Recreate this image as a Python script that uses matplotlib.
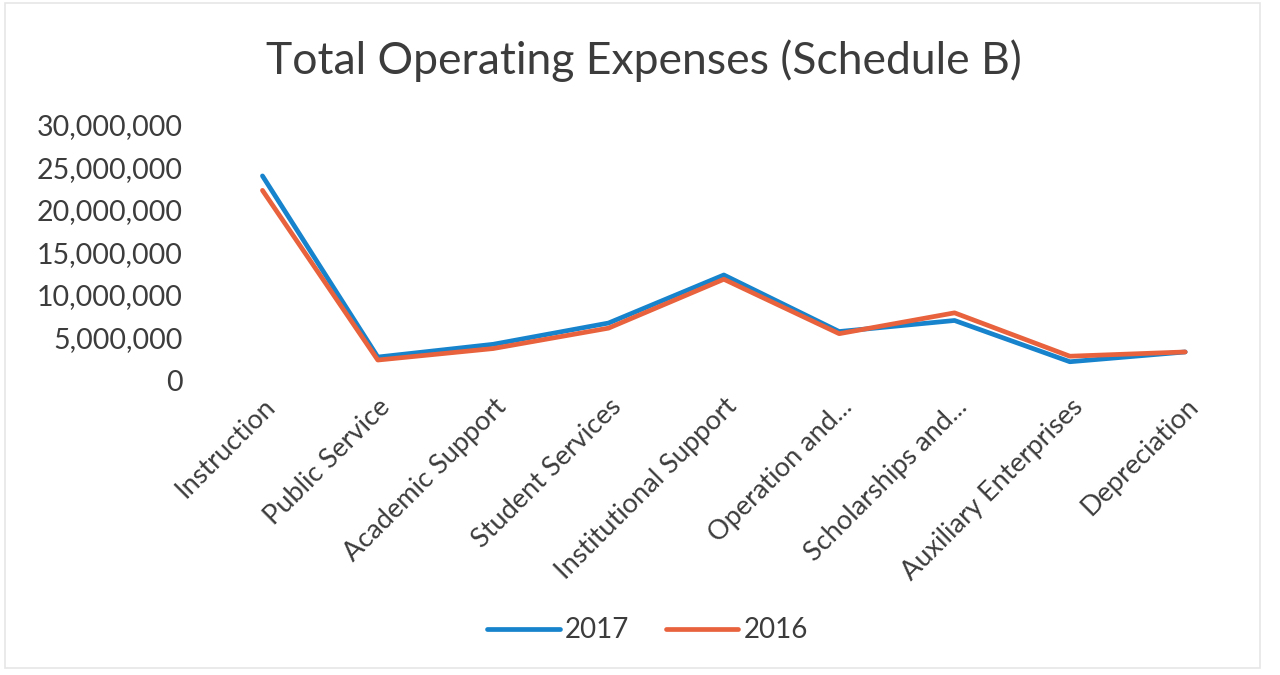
import matplotlib
matplotlib.use("Agg")
import matplotlib.pyplot as plt
from matplotlib.ticker import FuncFormatter
from matplotlib.patches import Rectangle

plt.rcParams['font.family'] = ['Lato', 'DejaVu Sans']

# --- data ---
categories = ["Instruction", "Public Service", "Academic Support", "Student Services",
              "Institutional Support", "Operation and...", "Scholarships and...",
              "Auxiliary Enterprises", "Depreciation"]
exp_2017 = [24.0e6, 2.7e6, 4.2e6, 6.7e6, 12.35e6, 5.7e6, 7.0e6, 2.15e6, 3.3e6]
exp_2016 = [22.3e6, 2.35e6, 3.7e6, 6.1e6, 11.85e6, 5.45e6, 7.9e6, 2.8e6, 3.3e6]
yticks = [0, 5e6, 10e6, 15e6, 20e6, 25e6, 30e6]

BLUE = "#1683cc"
ORANGE = "#e8623d"
TXT = "#3c3c3c"

fig = plt.figure(figsize=(12.8, 6.75), dpi=100)
ax = fig.add_axes([0.16, 0.437, 0.811, 0.378])

x = list(range(len(categories)))
ax.plot(x, exp_2017, color=BLUE, lw=3.4, label="2017", solid_capstyle="round", solid_joinstyle="round")
ax.plot(x, exp_2016, color=ORANGE, lw=3.4, label="2016", solid_capstyle="round", solid_joinstyle="round")

ax.set_xlim(-0.5, len(categories) - 0.5)
ax.set_ylim(0, 30e6)
ax.set_yticks(yticks)
ax.yaxis.set_major_formatter(FuncFormatter(lambda v, p: f"{int(v):,}"))
ax.set_xticks(x)
ax.set_xticklabels(categories, rotation=45, ha="right", rotation_mode="anchor")

for s in ax.spines.values():
    s.set_visible(False)
ax.tick_params(axis="both", length=0, colors=TXT)
ax.tick_params(axis="y", pad=16, labelsize=20.5)
ax.tick_params(axis="x", pad=10, labelsize=19.5)

fig.text(0.503, 0.91, "Total Operating Expenses (Schedule B)", ha="center", va="center",
         fontsize=32, color=TXT)

leg = fig.legend(loc="center", bbox_to_anchor=(0.506, 0.066), ncol=2, frameon=False,
                 fontsize=20, handlelength=2.6, columnspacing=1.3, handletextpad=0.2)
for t in leg.get_texts():
    t.set_color(TXT)

# faint chart-area border as in the scan
fig.patches.append(Rectangle((0.004, 0.01), 0.98, 0.985, transform=fig.transFigure,
                             fill=False, edgecolor="#e6e6e6", lw=1.2))

fig.savefig("out.png", dpi=100)
